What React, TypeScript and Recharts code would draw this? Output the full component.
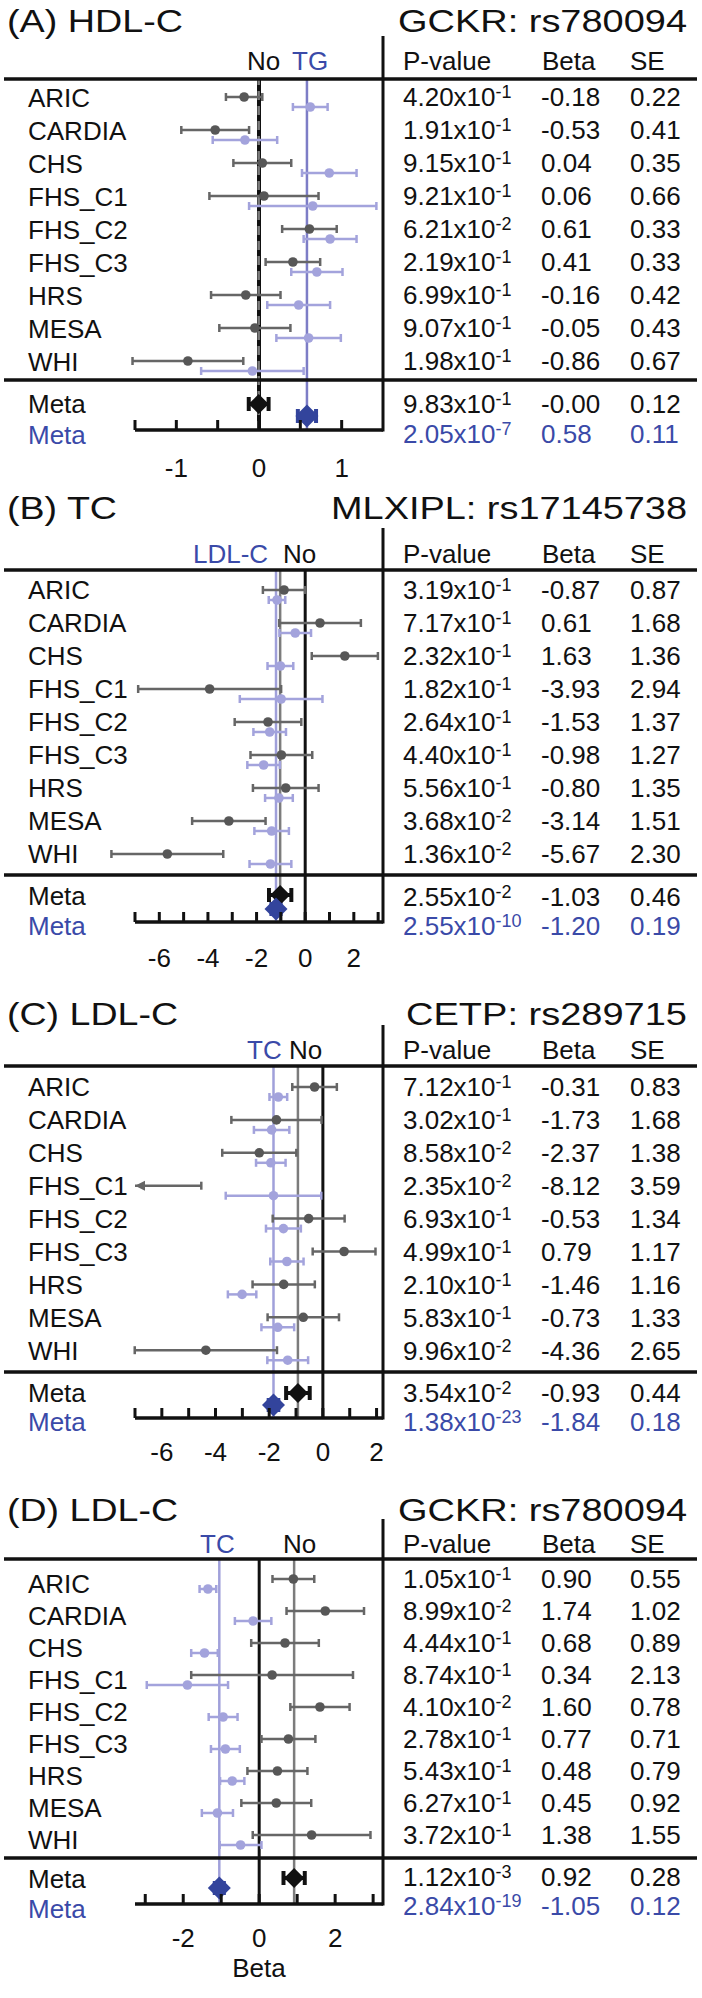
import { ErrorBar, ReferenceLine, Scatter, ScatterChart, XAxis, YAxis } from 'recharts'

const cohorts = ['ARIC', 'CARDIA', 'CHS', 'FHS_C1', 'FHS_C2', 'FHS_C3', 'HRS', 'MESA', 'WHI']

// (A) HDL-C, GCKR: rs780094 — grey = unadjusted, blue = TG-adjusted
const aPMant = ['4.20', '1.91', '9.15', '9.21', '6.21', '2.19', '6.99', '9.07', '1.98']
const aPExp = ['-1', '-1', '-1', '-1', '-2', '-1', '-1', '-1', '-1']
const aBeta = [-0.18, -0.53, 0.04, 0.06, 0.61, 0.41, -0.16, -0.05, -0.86]
const aSE = [0.22, 0.41, 0.35, 0.66, 0.33, 0.33, 0.42, 0.43, 0.67]
const aAdjBeta = [0.62, -0.17, 0.85, 0.65, 0.86, 0.7, 0.48, 0.6, -0.08]
const aAdjSE = [0.21, 0.39, 0.33, 0.77, 0.32, 0.31, 0.38, 0.39, 0.62]
// meta rows: [unadjusted, adjusted]
const aMetaPMant = ['9.83', '2.05']
const aMetaPExp = ['-1', '-7']
const aMetaBeta = [-0.004, 0.58]
const aMetaSE = [0.12, 0.11]

// (B) TC, MLXIPL: rs17145738 — blue = LDL-C-adjusted
const bPMant = ['3.19', '7.17', '2.32', '1.82', '2.64', '4.40', '5.56', '3.68', '1.36']
const bPExp = ['-1', '-1', '-1', '-1', '-1', '-1', '-1', '-2', '-2']
const bBeta = [-0.87, 0.61, 1.63, -3.93, -1.53, -0.98, -0.8, -3.14, -5.67]
const bSE = [0.87, 1.68, 1.36, 2.94, 1.37, 1.27, 1.35, 1.51, 2.3]
const bAdjBeta = [-1.16, -0.41, -1.02, -0.99, -1.46, -1.71, -1.08, -1.38, -1.43]
const bAdjSE = [0.34, 0.65, 0.53, 1.7, 0.67, 0.67, 0.57, 0.71, 0.86]
const bMetaPMant = ['2.55', '2.55']
const bMetaPExp = ['-2', '-10']
const bMetaBeta = [-1.03, -1.2]
const bMetaSE = [0.46, 0.19]

// (C) LDL-C, CETP: rs289715 — blue = TC-adjusted
const cPMant = ['7.12', '3.02', '8.58', '2.35', '6.93', '4.99', '2.10', '5.83', '9.96']
const cPExp = ['-1', '-1', '-2', '-2', '-1', '-1', '-1', '-1', '-2']
const cBeta = [-0.31, -1.73, -2.37, -8.12, -0.53, 0.79, -1.46, -0.73, -4.36]
const cSE = [0.83, 1.68, 1.38, 3.59, 1.34, 1.17, 1.16, 1.33, 2.65]
const cAdjBeta = [-1.66, -1.91, -1.94, -1.84, -1.47, -1.34, -3.01, -1.68, -1.31]
const cAdjSE = [0.33, 0.66, 0.55, 1.78, 0.65, 0.62, 0.53, 0.61, 0.76]
const cMetaPMant = ['3.54', '1.38']
const cMetaPExp = ['-2', '-23']
const cMetaBeta = [-0.93, -1.84]
const cMetaSE = [0.44, 0.18]

// (D) LDL-C, GCKR: rs780094 — blue = TC-adjusted
const dPMant = ['1.05', '8.99', '4.44', '8.74', '4.10', '2.78', '5.43', '6.27', '3.72']
const dPExp = ['-1', '-2', '-1', '-1', '-2', '-1', '-1', '-1', '-1']
const dBeta = [0.9, 1.74, 0.68, 0.34, 1.6, 0.77, 0.48, 0.45, 1.38]
const dSE = [0.55, 1.02, 0.89, 2.13, 0.78, 0.71, 0.79, 0.92, 1.55]
const dAdjBeta = [-1.35, -0.16, -1.44, -1.89, -0.95, -0.89, -0.71, -1.1, -0.49]
const dAdjSE = [0.22, 0.48, 0.35, 1.07, 0.38, 0.38, 0.32, 0.41, 0.55]
const dMetaPMant = ['1.12', '2.84']
const dMetaPExp = ['-3', '-19']
const dMetaBeta = [0.92, -1.05]
const dMetaSE = [0.28, 0.12]

const W = 702
const H = 1998
const PLOT_LEFT = 100
const AXIS_LEFT = 135
const PLOT_RIGHT = 383
const AXIS_H = 60
const FONT = '"Liberation Sans", Arial, sans-serif'
const INK = '#111'
const GREY = '#575757'
const GREY_BAR = '#666'
const LIGHT = '#a3a3dc'
const NAVY = '#33449c'
const BLUE_TEXT = '#3a4aa8'

interface Layout {
  titleY: number
  titleW: number
  snpX: number
  divTop: number
  headY: number
  noX: number
  adjX: number
  topLine: number
  row1: number
  step: number
  labelShift: number
  bottomLine: number
  metaBlackY: number
  metaBlueY: number
  metaLabel: [number, number]
  metaTab: [number, number]
  axisY: number
  tickDy: number
  axisStart: number
  axisEnd: number
  ticks: number[]
  tickLabels: number[]
  refBlue: string
}

interface PanelProps {
  title: string
  snp: string
  adjLabel: string
  pMant: string[]
  pExp: string[]
  beta: number[]
  se: number[]
  adjBeta: number[]
  adjSE: number[]
  metaPMant: string[]
  metaPExp: string[]
  metaBeta: number[]
  metaSE: number[]
  L: Layout
  xLabel?: string
}

// baseline for 26px text centred on y
const base = (y: number) => y + 9.3

const dot = (fill: string) => (p: any) => <circle cx={p.cx} cy={p.cy} r={4.8} fill={fill} />
const diamond = (fill: string, h: number) => (p: any) => (
  <polygon
    points={`${p.cx},${p.cy - h} ${p.cx + h},${p.cy} ${p.cx},${p.cy + h} ${p.cx - h},${p.cy}`}
    fill={fill}
  />
)
// bar cut at the axis start: arrowhead on the left, cap on the right
const cutShape = (p: any) =>
  p.payload.kind === 'arrow' ? (
    <polygon points={`${p.cx},${p.cy} ${p.cx + 10},${p.cy - 5} ${p.cx + 10},${p.cy + 5}`} fill={GREY_BAR} />
  ) : (
    <line x1={p.cx} x2={p.cx} y1={p.cy - 4} y2={p.cy + 4} stroke={GREY_BAR} strokeWidth={2.5} />
  )

function PValue({ x, y, mant, exp, color }: { x: number; y: number; mant: string; exp: string; color: string }) {
  return (
    <text x={x} y={y} fontSize={26} fill={color}>
      {mant}x10
      <tspan dy={-8} fontSize={18}>
        {exp}
      </tspan>
    </text>
  )
}

function Panel(props: PanelProps) {
  const { L, beta, se, adjBeta, adjSE, metaBeta, metaSE } = props
  const xMin = L.axisStart - ((AXIS_LEFT - PLOT_LEFT) * (L.axisEnd - L.axisStart)) / (PLOT_RIGHT - AXIS_LEFT)
  const plotH = L.axisY - L.topLine
  const yMin = 1 - (L.row1 - L.topLine) / L.step
  const yMax = 1 + (L.axisY - L.row1) / L.step
  const toRow = (py: number) => 1 + (py - L.row1) / L.step
  const blueOff = 10 / L.step

  const rows = cohorts
    .map((name, i) => ({ name, x: beta[i], y: i + 1, se: se[i] }))
    .filter((d) => d.x >= L.axisStart)
  const cut = cohorts.flatMap((name, i) =>
    beta[i] < L.axisStart
      ? [
          { name, x: L.axisStart, y: i + 1, kind: 'arrow' },
          { name, x: beta[i] + se[i], y: i + 1, kind: 'cap' },
        ]
      : [],
  )
  const adjRows = cohorts.map((name, i) => ({ name, x: adjBeta[i], y: i + 1 + blueOff, se: adjSE[i] }))
  const meta = [{ x: metaBeta[0], y: toRow(L.metaBlackY), se: metaSE[0] }]
  const adjMeta = [{ x: metaBeta[1], y: toRow(L.metaBlueY), se: metaSE[1] }]
  const onZero = Math.abs(metaBeta[0]) < 0.05

  const renderTick = (p: any) => {
    const v = p.payload.value
    return (
      <g>
        <line x1={p.x} x2={p.x} y1={p.y} y2={p.y - 10} stroke={INK} strokeWidth={3} />
        {L.tickLabels.includes(v) && (
          <text x={p.x} y={p.y + L.tickDy} textAnchor="middle" fontSize={26} fill={INK} fontFamily={FONT}>
            {String(v)}
          </text>
        )}
      </g>
    )
  }

  const header = [
    { text: 'No', x: L.noX, color: INK },
    { text: props.adjLabel, x: L.adjX, color: BLUE_TEXT },
  ]

  return (
    <>
      <div style={{ position: 'absolute', left: 0, top: L.topLine }}>
        <ScatterChart
          width={W}
          height={plotH + AXIS_H}
          margin={{ top: 0, right: W - PLOT_RIGHT, bottom: 0, left: PLOT_LEFT }}
        >
          <XAxis
            type="number"
            dataKey="x"
            domain={[xMin, L.axisEnd]}
            allowDataOverflow
            ticks={L.ticks}
            interval={0}
            axisLine={false}
            tickLine={false}
            tickSize={0}
            tickMargin={0}
            height={AXIS_H}
            tick={renderTick}
          />
          <YAxis type="number" dataKey="y" domain={[yMin, yMax]} allowDataOverflow reversed hide />
          <ReferenceLine x={0} stroke={INK} strokeWidth={onZero ? 4 : 3} ifOverflow="visible" />
          <ReferenceLine
            x={metaBeta[0]}
            stroke="#7c7c7c"
            strokeWidth={2.5}
            strokeDasharray={onZero ? '9 6' : undefined}
            ifOverflow="visible"
          />
          <ReferenceLine x={metaBeta[1]} stroke={L.refBlue} strokeWidth={2.5} ifOverflow="visible" />
          <ReferenceLine
            segment={[
              { x: L.axisStart, y: yMax },
              { x: L.axisEnd, y: yMax },
            ]}
            stroke={INK}
            strokeWidth={3.5}
            ifOverflow="visible"
          />
          <Scatter data={adjRows} fill={LIGHT} shape={dot(LIGHT)} isAnimationActive={false}>
            <ErrorBar dataKey="se" direction="x" width={4} stroke={LIGHT} strokeWidth={2.5} isAnimationActive={false} />
          </Scatter>
          <Scatter data={rows} fill={GREY} shape={dot(GREY)} isAnimationActive={false}>
            <ErrorBar dataKey="se" direction="x" width={4} stroke={GREY_BAR} strokeWidth={2.5} isAnimationActive={false} />
          </Scatter>
          {cut.length > 0 && (
            <Scatter
              data={cut}
              fill={GREY_BAR}
              line={{ stroke: GREY_BAR, strokeWidth: 2.5 }}
              shape={cutShape}
              isAnimationActive={false}
            />
          )}
          <Scatter data={meta} fill={INK} shape={diamond(INK, 10)} isAnimationActive={false}>
            <ErrorBar dataKey="se" direction="x" width={7} stroke={INK} strokeWidth={4} isAnimationActive={false} />
          </Scatter>
          <Scatter data={adjMeta} fill={NAVY} shape={diamond(NAVY, 11.5)} isAnimationActive={false}>
            <ErrorBar dataKey="se" direction="x" width={7} stroke={NAVY} strokeWidth={4} isAnimationActive={false} />
          </Scatter>
        </ScatterChart>
      </div>
      <svg
        width={W}
        height={H}
        style={{ position: 'absolute', left: 0, top: 0, pointerEvents: 'none' }}
        fontFamily={FONT}
      >
        <text x={7} y={L.titleY} fontSize={32} fill={INK} textLength={L.titleW} lengthAdjust="spacingAndGlyphs">
          {props.title}
        </text>
        <text x={L.snpX} y={L.titleY} fontSize={32} fill={INK} textLength={687 - L.snpX} lengthAdjust="spacingAndGlyphs">
          {props.snp}
        </text>
        <line x1={PLOT_RIGHT} x2={PLOT_RIGHT} y1={L.divTop} y2={L.axisY + 1.5} stroke={INK} strokeWidth={3} />
        <line x1={4} x2={697} y1={L.topLine} y2={L.topLine} stroke={INK} strokeWidth={3.5} />
        <line x1={4} x2={697} y1={L.bottomLine} y2={L.bottomLine} stroke={INK} strokeWidth={3.5} />
        {header.map((h) => (
          <text key={h.text} x={h.x} y={L.headY} fontSize={26} fill={h.color}>
            {h.text}
          </text>
        ))}
        <text x={403} y={L.headY} fontSize={26} fill={INK}>P-value</text>
        <text x={542} y={L.headY} fontSize={26} fill={INK}>Beta</text>
        <text x={630} y={L.headY} fontSize={26} fill={INK}>SE</text>
        {cohorts.map((c, i) => {
          const cy = L.row1 + i * L.step
          return (
            <g key={c}>
              <text x={28} y={base(cy + L.labelShift)} fontSize={26} fill={INK}>
                {c}
              </text>
              <PValue x={403} y={base(cy)} mant={props.pMant[i]} exp={props.pExp[i]} color={INK} />
              <text x={541} y={base(cy)} fontSize={26} fill={INK}>
                {beta[i].toFixed(2)}
              </text>
              <text x={630} y={base(cy)} fontSize={26} fill={INK}>
                {se[i].toFixed(2)}
              </text>
            </g>
          )
        })}
        {[0, 1].map((k) => {
          const color = k === 0 ? INK : BLUE_TEXT
          return (
            <g key={k}>
              <text x={28} y={base(L.metaLabel[k])} fontSize={26} fill={color}>
                Meta
              </text>
              <PValue x={403} y={base(L.metaTab[k])} mant={props.metaPMant[k]} exp={props.metaPExp[k]} color={color} />
              <text x={541} y={base(L.metaTab[k])} fontSize={26} fill={color}>
                {metaBeta[k].toFixed(2)}
              </text>
              <text x={630} y={base(L.metaTab[k])} fontSize={26} fill={color}>
                {metaSE[k].toFixed(2)}
              </text>
            </g>
          )
        })}
        {props.xLabel && (
          <text x={259} y={base(1968)} fontSize={26} fill={INK} textAnchor="middle">
            {props.xLabel}
          </text>
        )}
      </svg>
    </>
  )
}

const layoutA: Layout = {
  titleY: 32, titleW: 176, snpX: 398, divTop: 36, headY: 70, noX: 247, adjX: 292,
  topLine: 79, row1: 97, step: 33, labelShift: 1, bottomLine: 380,
  metaBlackY: 404, metaBlueY: 416, metaLabel: [404, 435], metaTab: [404, 434],
  axisY: 430, tickDy: 47, axisStart: -1.5, axisEnd: 1.5,
  ticks: [-1.5, -1, -0.5, 0, 0.5, 1], tickLabels: [-1, 0, 1], refBlue: '#7d7dc6',
}
const layoutB: Layout = {
  titleY: 519, titleW: 110, snpX: 331, divTop: 528, headY: 563, noX: 283, adjX: 193,
  topLine: 570, row1: 590, step: 33, labelShift: 0, bottomLine: 875,
  metaBlackY: 895, metaBlueY: 909, metaLabel: [896, 926], metaTab: [897, 926],
  axisY: 922, tickDy: 45, axisStart: -7, axisEnd: 3.2,
  ticks: [-7, -6, -5, -4, -3, -2, -1, 0, 1, 2, 3], tickLabels: [-6, -4, -2, 0, 2], refBlue: '#a0a0da',
}
const layoutC: Layout = {
  titleY: 1025, titleW: 171, snpX: 406, divTop: 1025, headY: 1059, noX: 289, adjX: 247,
  topLine: 1066, row1: 1087, step: 32.9, labelShift: 0, bottomLine: 1372,
  metaBlackY: 1393, metaBlueY: 1405, metaLabel: [1393, 1422], metaTab: [1393, 1422],
  axisY: 1418, tickDy: 43, axisStart: -7, axisEnd: 2.24,
  ticks: [-7, -6, -5, -4, -3, -2, -1, 0, 1, 2], tickLabels: [-6, -4, -2, 0, 2], refBlue: '#a0a0da',
}
const layoutD: Layout = {
  titleY: 1521, titleW: 171, snpX: 398, divTop: 1519, headY: 1553, noX: 283, adjX: 200,
  topLine: 1559, row1: 1579, step: 32, labelShift: 5, bottomLine: 1858,
  metaBlackY: 1878, metaBlueY: 1888, metaLabel: [1879, 1909], metaTab: [1877, 1906],
  axisY: 1904, tickDy: 43, axisStart: -3.27, axisEnd: 3.26,
  ticks: [-3, -2, -1, 0, 1, 2, 3], tickLabels: [-2, 0, 2], refBlue: '#a0a0da',
}

export default function App() {
  return (
    <div style={{ position: 'relative', width: W, height: H, background: '#fff', fontFamily: FONT }}>
      <style>{'body{margin:0}'}</style>
      <Panel
        title="(A) HDL-C" snp="GCKR: rs780094" adjLabel="TG"
        pMant={aPMant} pExp={aPExp} beta={aBeta} se={aSE} adjBeta={aAdjBeta} adjSE={aAdjSE}
        metaPMant={aMetaPMant} metaPExp={aMetaPExp} metaBeta={aMetaBeta} metaSE={aMetaSE}
        L={layoutA}
      />
      <Panel
        title="(B) TC" snp="MLXIPL: rs17145738" adjLabel="LDL-C"
        pMant={bPMant} pExp={bPExp} beta={bBeta} se={bSE} adjBeta={bAdjBeta} adjSE={bAdjSE}
        metaPMant={bMetaPMant} metaPExp={bMetaPExp} metaBeta={bMetaBeta} metaSE={bMetaSE}
        L={layoutB}
      />
      <Panel
        title="(C) LDL-C" snp="CETP: rs289715" adjLabel="TC"
        pMant={cPMant} pExp={cPExp} beta={cBeta} se={cSE} adjBeta={cAdjBeta} adjSE={cAdjSE}
        metaPMant={cMetaPMant} metaPExp={cMetaPExp} metaBeta={cMetaBeta} metaSE={cMetaSE}
        L={layoutC}
      />
      <Panel
        title="(D) LDL-C" snp="GCKR: rs780094" adjLabel="TC"
        pMant={dPMant} pExp={dPExp} beta={dBeta} se={dSE} adjBeta={dAdjBeta} adjSE={dAdjSE}
        metaPMant={dMetaPMant} metaPExp={dMetaPExp} metaBeta={dMetaBeta} metaSE={dMetaSE}
        L={layoutD} xLabel="Beta"
      />
    </div>
  )
}
